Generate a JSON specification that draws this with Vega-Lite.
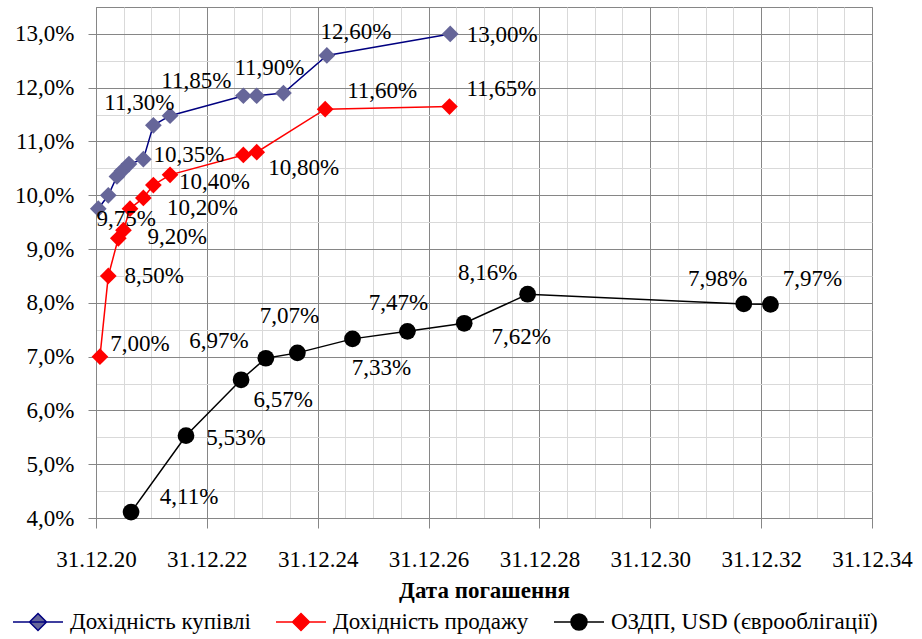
{
  "$schema": "https://vega.github.io/schema/vega-lite/v6.json",
  "width": 776,
  "height": 511,
  "autosize": {"type": "none"},
  "padding": {"left": 96, "top": 7, "right": 50, "bottom": 121},
  "config": {
    "font": "'Liberation Serif', 'Times New Roman', 'DejaVu Serif', serif",
    "view": {"stroke": "#868686", "strokeWidth": 1},
    "text": {"font": "'Liberation Serif', 'Times New Roman', 'DejaVu Serif', serif", "fontSize": 23, "align": "center", "baseline": "middle", "color": "#000000"}
  },
  "data": {
    "values": [
      {"series": "Дохідність купівлі", "date": "2021-01-15", "value": 9.75, "label": "9,75%"},
      {"series": "Дохідність купівлі", "date": "2021-03-22", "value": 10.0, "label": null},
      {"series": "Дохідність купівлі", "date": "2021-05-18", "value": 10.35, "label": null},
      {"series": "Дохідність купівлі", "date": "2021-06-20", "value": 10.45, "label": null},
      {"series": "Дохідність купівлі", "date": "2021-08-05", "value": 10.58, "label": null},
      {"series": "Дохідність купівлі", "date": "2021-11-08", "value": 10.67, "label": null},
      {"series": "Дохідність купівлі", "date": "2022-01-13", "value": 11.3, "label": "11,30%"},
      {"series": "Дохідність купівлі", "date": "2022-05-03", "value": 11.48, "label": null},
      {"series": "Дохідність купівлі", "date": "2023-08-29", "value": 11.85, "label": "11,85%"},
      {"series": "Дохідність купівлі", "date": "2023-11-25", "value": 11.85, "label": null},
      {"series": "Дохідність купівлі", "date": "2024-05-19", "value": 11.9, "label": "11,90%"},
      {"series": "Дохідність купівлі", "date": "2025-03-01", "value": 12.6, "label": "12,60%"},
      {"series": "Дохідність купівлі", "date": "2027-05-23", "value": 13.0, "label": "13,00%"},
      {"series": "Дохідність продажу", "date": "2021-01-26", "value": 7.0, "label": "7,00%"},
      {"series": "Дохідність продажу", "date": "2021-03-22", "value": 8.5, "label": "8,50%"},
      {"series": "Дохідність продажу", "date": "2021-05-27", "value": 9.2, "label": "9,20%"},
      {"series": "Дохідність продажу", "date": "2021-06-30", "value": 9.35, "label": null},
      {"series": "Дохідність продажу", "date": "2021-08-12", "value": 9.75, "label": null},
      {"series": "Дохідність продажу", "date": "2021-11-08", "value": 9.95, "label": "10,20%"},
      {"series": "Дохідність продажу", "date": "2022-01-13", "value": 10.19, "label": "10,40%"},
      {"series": "Дохідність продажу", "date": "2022-05-03", "value": 10.38, "label": "10,35%"},
      {"series": "Дохідність продажу", "date": "2023-08-29", "value": 10.75, "label": null},
      {"series": "Дохідність продажу", "date": "2023-11-25", "value": 10.8, "label": "10,80%"},
      {"series": "Дохідність продажу", "date": "2025-02-18", "value": 11.6, "label": "11,60%"},
      {"series": "Дохідність продажу", "date": "2027-05-18", "value": 11.65, "label": "11,65%"},
      {"series": "ОЗДП, USD (єврооблігації)", "date": "2021-08-19", "value": 4.11, "label": "4,11%"},
      {"series": "ОЗДП, USD (єврооблігації)", "date": "2022-08-16", "value": 5.53, "label": "5,53%"},
      {"series": "ОЗДП, USD (єврооблігації)", "date": "2023-08-14", "value": 6.57, "label": "6,57%"},
      {"series": "ОЗДП, USD (єврооблігації)", "date": "2024-01-24", "value": 6.97, "label": "6,97%"},
      {"series": "ОЗДП, USD (єврооблігації)", "date": "2024-08-19", "value": 7.07, "label": "7,07%"},
      {"series": "ОЗДП, USD (єврооблігації)", "date": "2025-08-17", "value": 7.33, "label": "7,33%"},
      {"series": "ОЗДП, USD (єврооблігації)", "date": "2026-08-14", "value": 7.47, "label": "7,47%"},
      {"series": "ОЗДП, USD (єврооблігації)", "date": "2027-08-23", "value": 7.62, "label": "7,62%"},
      {"series": "ОЗДП, USD (єврооблігації)", "date": "2028-10-14", "value": 8.16, "label": "8,16%"},
      {"series": "ОЗДП, USD (єврооблігації)", "date": "2032-09-07", "value": 7.98, "label": "7,98%"},
      {"series": "ОЗДП, USD (єврооблігації)", "date": "2033-03-02", "value": 7.97, "label": "7,97%"}
    ]
  },
  "encoding": {
    "x": {
      "field": "date",
      "type": "temporal",
      "scale": {"type": "utc", "domain": [{"year": 2020, "month": 12, "date": 31, "utc": true}, {"year": 2034, "month": 12, "date": 31, "utc": true}]},
      "title": "Дата погашення",
      "axis": {
        "values": [
          {"year": 2020, "month": 12, "date": 31, "utc": true},
          {"year": 2021, "month": 7, "date": 1, "utc": true},
          {"year": 2021, "month": 12, "date": 31, "utc": true},
          {"year": 2022, "month": 7, "date": 1, "utc": true},
          {"year": 2022, "month": 12, "date": 31, "utc": true},
          {"year": 2023, "month": 7, "date": 1, "utc": true},
          {"year": 2023, "month": 12, "date": 31, "utc": true},
          {"year": 2024, "month": 7, "date": 1, "utc": true},
          {"year": 2024, "month": 12, "date": 31, "utc": true},
          {"year": 2025, "month": 7, "date": 1, "utc": true},
          {"year": 2025, "month": 12, "date": 31, "utc": true},
          {"year": 2026, "month": 7, "date": 1, "utc": true},
          {"year": 2026, "month": 12, "date": 31, "utc": true},
          {"year": 2027, "month": 7, "date": 1, "utc": true},
          {"year": 2027, "month": 12, "date": 31, "utc": true},
          {"year": 2028, "month": 7, "date": 1, "utc": true},
          {"year": 2028, "month": 12, "date": 31, "utc": true},
          {"year": 2029, "month": 7, "date": 1, "utc": true},
          {"year": 2029, "month": 12, "date": 31, "utc": true},
          {"year": 2030, "month": 7, "date": 1, "utc": true},
          {"year": 2030, "month": 12, "date": 31, "utc": true},
          {"year": 2031, "month": 7, "date": 1, "utc": true},
          {"year": 2031, "month": 12, "date": 31, "utc": true},
          {"year": 2032, "month": 7, "date": 1, "utc": true},
          {"year": 2032, "month": 12, "date": 31, "utc": true},
          {"year": 2033, "month": 7, "date": 1, "utc": true},
          {"year": 2033, "month": 12, "date": 31, "utc": true},
          {"year": 2034, "month": 7, "date": 1, "utc": true},
          {"year": 2034, "month": 12, "date": 31, "utc": true}
        ],
        "labelExpr": "utcmonth(datum.value) == 11 && utcyear(datum.value) % 2 == 0 ? utcFormat(datum.value, '%d.%m.%y') : ''",
        "labelOverlap": false,
        "labelFlush": false,
        "labelFont": "'Liberation Serif', 'Times New Roman', 'DejaVu Serif', serif",
        "labelFontSize": 23,
        "labelColor": "#000000",
        "labelPadding": 20,
        "tickSize": 10,
        "tickColor": "#868686",
        "tickOpacity": {"condition": {"test": "utcmonth(datum.value) == 11 && utcyear(datum.value) % 2 == 0", "value": 1}, "value": 0},
        "domainColor": "#868686",
        "grid": true,
        "gridColor": {"condition": {"test": "utcmonth(datum.value) == 11 && utcyear(datum.value) % 2 == 0", "value": "#868686"}, "value": "#d9d9d9"},
        "titleFont": "'Liberation Serif', 'Times New Roman', 'DejaVu Serif', serif",
        "titleFontSize": 23,
        "titleFontWeight": "bold",
        "titleColor": "#000000",
        "titlePadding": 8
      }
    },
    "y": {
      "field": "value",
      "type": "quantitative",
      "scale": {"domain": [4, 13.5], "nice": false, "zero": false},
      "title": null,
      "axis": {
        "values": [4, 4.5, 5, 5.5, 6, 6.5, 7, 7.5, 8, 8.5, 9, 9.5, 10, 10.5, 11, 11.5, 12, 12.5, 13],
        "labelExpr": "datum.value % 1 == 0 ? replace(format(datum.value, '.1f'), '.', ',') + '%' : ''",
        "labelFont": "'Liberation Serif', 'Times New Roman', 'DejaVu Serif', serif",
        "labelFontSize": 23,
        "labelColor": "#000000",
        "labelPadding": 14,
        "labelOverlap": false,
        "labelFlush": false,
        "tickSize": 8,
        "tickColor": "#868686",
        "tickOpacity": {"condition": {"test": "datum.value % 1 == 0", "value": 1}, "value": 0},
        "domainColor": "#868686",
        "grid": true,
        "gridColor": {"condition": {"test": "datum.value % 1 == 0", "value": "#868686"}, "value": "#d9d9d9"}
      }
    }
  },
  "layer": [
    {
      "mark": {"type": "line", "strokeWidth": 1.5},
      "encoding": {
        "stroke": {
          "field": "series",
          "type": "nominal",
          "scale": {"domain": ["Дохідність купівлі", "Дохідність продажу", "ОЗДП, USD (єврооблігації)"], "range": ["#000080", "#ff0000", "#000000"]},
          "legend": {
            "orient": "none",
            "legendX": -84,
            "legendY": 589,
            "direction": "horizontal",
            "title": null,
            "padding": 0,
            "symbolSize": 2500,
            "symbolStrokeWidth": 1.5,
            "labelFont": "'Liberation Serif', 'Times New Roman', 'DejaVu Serif', serif",
            "labelFontSize": 23,
            "labelColor": "#000000",
            "labelOffset": 6,
            "labelLimit": 400,
            "columnPadding": 22,
            "encode": {
              "symbols": {
                "update": {
                  "shape": {"signal": "datum.value === 'ОЗДП, USD (єврооблігації)' ? 'M-1,0H1M-0.32,0A0.32,0.32,0,1,1,0.32,0A0.32,0.32,0,1,1,-0.32,0Z' : 'M-1,0H1M0,-0.34L0.34,0L0,0.34L-0.34,0Z'"},
                  "fill": {"signal": "datum.value === 'Дохідність купівлі' ? '#666699' : datum.value === 'Дохідність продажу' ? '#ff0000' : '#000000'"},
                  "fillOpacity": {"value": 1}
                }
              }
            }
          }
        }
      }
    },
    {
      "mark": {"type": "point", "filled": true, "opacity": 1, "size": 280, "strokeWidth": 0},
      "encoding": {
        "fill": {
          "condition": [
            {"test": "datum.series === 'Дохідність купівлі'", "value": "#666699"},
            {"test": "datum.series === 'Дохідність продажу'", "value": "#ff0000"}
          ],
          "value": "#000000"
        },
        "shape": {
          "condition": {"test": "datum.series === 'ОЗДП, USD (єврооблігації)'", "value": "circle"},
          "value": "diamond"
        }
      }
    },
    {"transform": [{"filter": "datum.label == '9,75%'"}], "mark": {"type": "text", "dx": 28, "dy": 10}, "encoding": {"text": {"field": "label"}}},
    {"transform": [{"filter": "datum.label == '11,30%'"}], "mark": {"type": "text", "dx": -14, "dy": -22}, "encoding": {"text": {"field": "label"}}},
    {"transform": [{"filter": "datum.label == '11,85%'"}], "mark": {"type": "text", "dx": -47, "dy": -15}, "encoding": {"text": {"field": "label"}}},
    {"transform": [{"filter": "datum.label == '11,90%'"}], "mark": {"type": "text", "dx": -14, "dy": -25}, "encoding": {"text": {"field": "label"}}},
    {"transform": [{"filter": "datum.label == '12,60%'"}], "mark": {"type": "text", "dx": 29, "dy": -23}, "encoding": {"text": {"field": "label"}}},
    {"transform": [{"filter": "datum.label == '13,00%'"}], "mark": {"type": "text", "dx": 52, "dy": 1}, "encoding": {"text": {"field": "label"}}},
    {"transform": [{"filter": "datum.label == '7,00%'"}], "mark": {"type": "text", "dx": 40, "dy": -13}, "encoding": {"text": {"field": "label"}}},
    {"transform": [{"filter": "datum.label == '8,50%'"}], "mark": {"type": "text", "dx": 46, "dy": 0}, "encoding": {"text": {"field": "label"}}},
    {"transform": [{"filter": "datum.label == '9,20%'"}], "mark": {"type": "text", "dx": 59, "dy": -1}, "encoding": {"text": {"field": "label"}}},
    {"transform": [{"filter": "datum.label == '10,20%'"}], "mark": {"type": "text", "dx": 59, "dy": 10}, "encoding": {"text": {"field": "label"}}},
    {"transform": [{"filter": "datum.label == '10,40%'"}], "mark": {"type": "text", "dx": 61, "dy": -3}, "encoding": {"text": {"field": "label"}}},
    {"transform": [{"filter": "datum.label == '10,35%'"}], "mark": {"type": "text", "dx": 19, "dy": -20}, "encoding": {"text": {"field": "label"}}},
    {"transform": [{"filter": "datum.label == '10,80%'"}], "mark": {"type": "text", "dx": 47, "dy": 16}, "encoding": {"text": {"field": "label"}}},
    {"transform": [{"filter": "datum.label == '11,60%'"}], "mark": {"type": "text", "dx": 57, "dy": -18}, "encoding": {"text": {"field": "label"}}},
    {"transform": [{"filter": "datum.label == '11,65%'"}], "mark": {"type": "text", "dx": 52, "dy": -18}, "encoding": {"text": {"field": "label"}}},
    {"transform": [{"filter": "datum.label == '4,11%'"}], "mark": {"type": "text", "dx": 58, "dy": -15}, "encoding": {"text": {"field": "label"}}},
    {"transform": [{"filter": "datum.label == '5,53%'"}], "mark": {"type": "text", "dx": 50, "dy": 2}, "encoding": {"text": {"field": "label"}}},
    {"transform": [{"filter": "datum.label == '6,57%'"}], "mark": {"type": "text", "dx": 42, "dy": 20}, "encoding": {"text": {"field": "label"}}},
    {"transform": [{"filter": "datum.label == '6,97%'"}], "mark": {"type": "text", "dx": -47, "dy": -17}, "encoding": {"text": {"field": "label"}}},
    {"transform": [{"filter": "datum.label == '7,07%'"}], "mark": {"type": "text", "dx": -8, "dy": -37}, "encoding": {"text": {"field": "label"}}},
    {"transform": [{"filter": "datum.label == '7,33%'"}], "mark": {"type": "text", "dx": 29, "dy": 29}, "encoding": {"text": {"field": "label"}}},
    {"transform": [{"filter": "datum.label == '7,47%'"}], "mark": {"type": "text", "dx": -9, "dy": -28}, "encoding": {"text": {"field": "label"}}},
    {"transform": [{"filter": "datum.label == '7,62%'"}], "mark": {"type": "text", "dx": 57, "dy": 14}, "encoding": {"text": {"field": "label"}}},
    {"transform": [{"filter": "datum.label == '8,16%'"}], "mark": {"type": "text", "dx": -40, "dy": -21}, "encoding": {"text": {"field": "label"}}},
    {"transform": [{"filter": "datum.label == '7,98%'"}], "mark": {"type": "text", "dx": -26, "dy": -25}, "encoding": {"text": {"field": "label"}}},
    {"transform": [{"filter": "datum.label == '7,97%'"}], "mark": {"type": "text", "dx": 42, "dy": -25}, "encoding": {"text": {"field": "label"}}}
  ]
}
